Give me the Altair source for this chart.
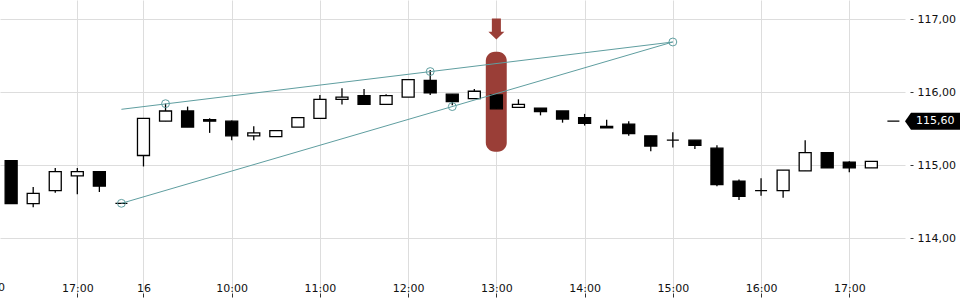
import altair as alt
import pandas as pd

# ---- candle data (15-minute candles, index 0..40) ----
opens  = [115.06, 114.47, 114.65, 114.85, 114.91, 114.475, 115.13, 115.60, 115.74, 115.62,
          115.60, 115.40, 115.39, 115.52, 115.64, 115.90, 115.95, 115.83, 115.93, 116.16,
          115.97, 115.91, 115.96, 115.79, 115.78, 115.74, 115.65, 115.53, 115.56, 115.40,
          115.34, 115.34, 115.23, 114.78, 114.65, 114.65, 114.92, 115.17, 115.04, 114.96,
          115.60]
highs  = [115.06, 114.70, 114.96, 114.96, 114.91, 114.475, 115.64, 115.84, 115.80, 115.64,
          115.61, 115.53, 115.47, 115.65, 115.96, 116.05, 116.04, 115.97, 116.17, 116.30,
          115.97, 116.04, 115.96, 115.90, 115.78, 115.74, 115.70, 115.62, 115.60, 115.40,
          115.45, 115.34, 115.27, 114.80, 114.82, 114.93, 115.34, 115.17, 115.05, 115.05,
          115.60]
lows   = [114.47, 114.42, 114.62, 114.60, 114.63, 114.475, 114.98, 115.60, 115.52, 115.44,
          115.34, 115.34, 115.39, 115.52, 115.64, 115.83, 115.83, 115.83, 115.93, 115.96,
          115.82, 115.91, 115.77, 115.79, 115.68, 115.58, 115.54, 115.51, 115.40, 115.19,
          115.24, 115.22, 114.71, 114.52, 114.58, 114.55, 114.92, 114.96, 114.90, 114.96,
          115.60]
closes = [114.47, 114.61, 114.91, 114.91, 114.71, 114.475, 115.64, 115.74, 115.52, 115.60,
          115.40, 115.44, 115.47, 115.65, 115.90, 115.93, 115.83, 115.95, 116.17, 115.99,
          115.87, 116.01, 115.77, 115.83, 115.73, 115.63, 115.57, 115.51, 115.43, 115.26,
          115.34, 115.27, 114.73, 114.57, 114.65, 114.93, 115.17, 114.96, 114.96, 115.05,
          115.60]

# ---- axis ticks ----
tick_pos = [-1, 3, 6, 10, 14, 18, 22, 26, 30, 34, 38]
tick_labels = ["16:00", "17:00", "16", "10:00", "11:00", "12:00", "13:00",
               "14:00", "15:00", "16:00", "17:00"]
y_ticks = [114, 115, 116, 117]
last_price = 115.60

# ---- trend lines and pivot markers ----
trend_i = [5, 30, 5, 30]
trend_v = [115.763, 116.685, 114.475, 116.685]
trend_id = ["upper", "upper", "lower", "lower"]
pivot_i = [5, 7, 19, 20, 30]
pivot_v = [114.475, 115.84, 116.28, 115.80, 116.685]

# ---- highlighted candle ----
hl_i0, hl_i1 = 21.52, 22.47
hl_top, hl_bottom = 116.55, 115.18
arrow_i, arrow_v = 22, 116.863

X_DOMAIN = [-0.505, 40.526]
Y_DOMAIN = [113.2466, 117.2603]
W, H = 905, 293
RED = "#9a3e37"
TEAL = "#5f9ea0"
FONT = "DejaVu Sans"

candles = pd.DataFrame({"i": list(range(len(opens))), "open": opens, "high": highs,
                        "low": lows, "close": closes})
ticks_df = pd.DataFrame({"i": tick_pos, "label": tick_labels})
trend_df = pd.DataFrame({"i": trend_i, "v": trend_v, "id": trend_id})
pivot_df = pd.DataFrame({"i": pivot_i, "v": pivot_v})
hl_df = pd.DataFrame({"i0": [hl_i0], "i1": [hl_i1], "top": [hl_top], "bottom": [hl_bottom]})
arrow_df = pd.DataFrame({"i": [arrow_i], "v": [arrow_v]})
last_df = pd.DataFrame({"v": [last_price], "label": [f"{last_price:.2f}".replace(".", ",")]})

xs = alt.Scale(domain=X_DOMAIN, nice=False, zero=False, padding=0)
ys = alt.Scale(domain=Y_DOMAIN, nice=False, zero=False, padding=0)

in_dom = [p for p in tick_pos if X_DOMAIN[0] <= p <= X_DOMAIN[1]]
pos_js = "[" + ",".join(str(p) for p in tick_pos) + "]"
lab_js = "[" + ",".join("'" + l + "'" for l in tick_labels) + "]"

x_axis = alt.Axis(values=in_dom, labelExpr=f"{lab_js}[indexof({pos_js}, datum.value)]",
                  title=None, grid=True, gridColor="#dddddd", domain=False,
                  tickSize=4, tickColor="#333333", labelPadding=-15, labelFlush=False,
                  labelBound=False, labelFontSize=11, labelColor="#111111", labelFont=FONT)
y_axis = alt.Axis(values=y_ticks, orient="right",
                  labelExpr="replace(format(datum.value, '.2f'), '.', ',')",
                  title=None, grid=True, gridColor="#dddddd", domain=False, offset=5,
                  tickSize=3, tickColor="#333333", labelPadding=4, labelFontSize=11,
                  labelColor="#111111", labelFont=FONT)


def X(field):
    return alt.X(field, scale=xs, axis=x_axis)


def Y(field):
    return alt.Y(field, scale=ys, axis=y_axis)


highlight = alt.Chart(hl_df).mark_rect(color=RED, cornerRadius=9).encode(
    x=X("i0:Q"), x2="i1:Q", y=Y("top:Q"), y2="bottom:Q")

wicks = alt.Chart(candles).mark_rule(color="black", strokeWidth=1.3).encode(
    x=X("i:Q"), y=Y("low:Q"), y2="high:Q")

bodies = alt.Chart(candles).transform_calculate(
    fillc="datum.close >= datum.open ? 'white' : 'black'"
).mark_bar(size=12, stroke="black", strokeWidth=1.3).encode(
    x=X("i:Q"), y=Y("open:Q"), y2="close:Q",
    fill=alt.Fill("fillc:N", scale=None))

trend = alt.Chart(trend_df).mark_line(color=TEAL, strokeWidth=1).encode(
    x=X("i:Q"), y=Y("v:Q"), detail="id:N")

pivots = alt.Chart(pivot_df).mark_point(shape="circle", filled=False, size=62, color=TEAL,
                                        strokeWidth=1, opacity=1).encode(
    x=X("i:Q"), y=Y("v:Q"))

arrow_path = "M -0.43 -1 L 0.43 -1 L 0.43 0.26 L 0.76 0.26 L 0 1 L -0.76 0.26 L -0.43 0.26 Z"
arrow = alt.Chart(arrow_df).mark_point(shape=arrow_path, filled=True, size=441, color=RED,
                                       opacity=1, strokeWidth=0).encode(
    x=X("i:Q"), y=Y("v:Q"))

tag_path = "M -1 0 L -0.786 -0.304 L 1 -0.304 L 1 0.304 L -0.786 0.304 Z"
tag = alt.Chart(last_df).mark_point(shape=tag_path, filled=True, size=3136, color="black",
                                    opacity=1, strokeWidth=0).encode(
    x=alt.value(W + 28), y=Y("v:Q"))
tag_text = alt.Chart(last_df).mark_text(align="left", baseline="middle", color="white",
                                        fontSize=11, font=FONT).encode(
    x=alt.value(W + 11), y=Y("v:Q"), text="label:N")

off_labels = alt.Chart(ticks_df).transform_filter(
    f"datum.i < {X_DOMAIN[0]}"
).mark_text(align="center", baseline="top", fontSize=11, font=FONT, color="#111111").encode(
    x=X("i:Q"), y=alt.value(H + 4 - 15), text="label:N")

chart = alt.layer(highlight, wicks, bodies, trend, pivots, arrow, tag, tag_text, off_labels
).properties(
    width=W, height=H,
    autosize=alt.AutoSizeParams(type="none"),
    padding={"left": 0, "top": 0, "right": 960 - W, "bottom": 300 - H},
    background="white"
).configure(font=FONT, view=alt.ViewConfig(stroke=None))

chart.save("out.html", embed_options={"renderer": "svg", "actions": False})
